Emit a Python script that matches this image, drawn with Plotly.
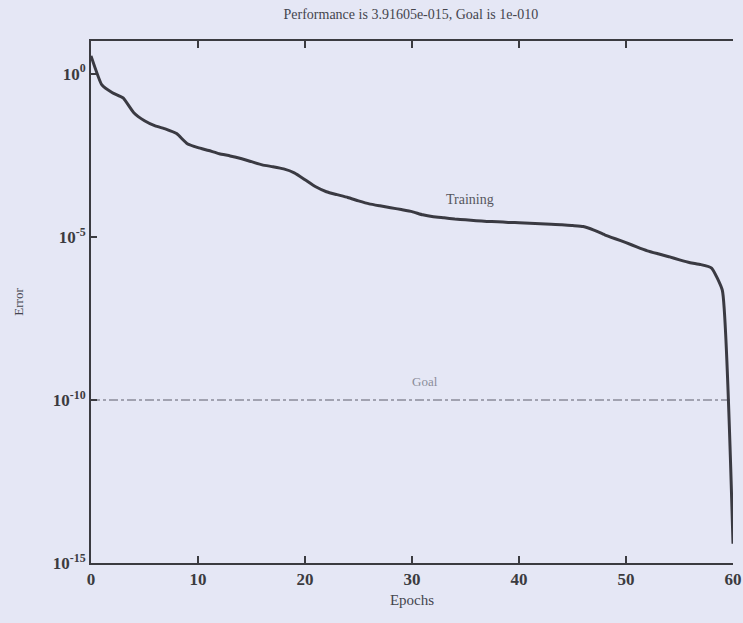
import plotly.graph_objects as go

# ---- data ----
epochs = list(range(0, 61))
training_error = [
    3.5, 0.46, 0.26, 0.18, 0.063, 0.036, 0.025, 0.020, 0.0145, 0.0071,
    0.0054, 0.0044, 0.0035, 0.0030, 0.0025, 0.0020, 0.0016, 0.0014, 0.0012, 9.1e-4,
    5.6e-4, 3.4e-4, 2.4e-4, 1.95e-4, 1.6e-4, 1.26e-4, 1.02e-4, 8.9e-5, 7.8e-5, 6.8e-5,
    5.9e-5, 4.7e-5, 4.1e-5, 3.8e-5, 3.5e-5, 3.3e-5, 3.1e-5, 2.95e-5, 2.9e-5, 2.75e-5,
    2.7e-5, 2.6e-5, 2.5e-5, 2.4e-5, 2.35e-5, 2.2e-5, 2.05e-5, 1.6e-5, 1.15e-5, 8.7e-6,
    6.6e-6, 4.9e-6, 3.7e-6, 3.0e-6, 2.45e-6, 1.95e-6, 1.6e-6, 1.4e-6, 1.1e-6, 2.3e-7,
    3.91605e-15,
]
goal_epochs = [0, 60]
goal_value = [1e-10, 1e-10]
y_tickvals = [1e0, 1e-5, 1e-10, 1e-15]
y_ticktext = ["10<sup>0</sup>", "10<sup>-5</sup>", "10<sup>-10</sup>", "10<sup>-15</sup>"]
x_tickvals = [0, 10, 20, 30, 40, 50, 60]
title_text = "Performance is 3.91605e-015, Goal is 1e-010"

BG = "#e5e7f5"
INK = "#3b3b40"
SERIF = "Liberation Serif, Times New Roman, serif"

fig = go.Figure()
fig.add_trace(go.Scatter(
    x=goal_epochs, y=goal_value, mode="lines",
    line=dict(color="#8a8c99", width=1.5, dash="dashdot"),
    showlegend=False, hoverinfo="skip",
))
fig.add_trace(go.Scatter(
    x=epochs, y=training_error, mode="lines",
    line=dict(color="#3a3a42", width=3, shape="spline", smoothing=0.4),
    showlegend=False,
))

fig.add_annotation(x=35.4, y=-3.87, xref="x", yref="y", text="Training",
                   showarrow=False, font=dict(family=SERIF, size=14, color="#55565e"))
fig.add_annotation(x=31.2, y=-9.45, xref="x", yref="y", text="Goal",
                   showarrow=False, font=dict(family=SERIF, size=13, color="#8a8c99"))

fig.update_layout(
    width=743, height=623,
    paper_bgcolor=BG, plot_bgcolor=BG,
    margin=dict(l=91, r=10, t=41, b=60),
    title=dict(text=title_text, x=0.553, xanchor="center", y=0.978, yanchor="middle",
               font=dict(family=SERIF, size=14, color="#44454d")),
    showlegend=False,
)
fig.update_xaxes(
    range=[0, 60], tickvals=x_tickvals, ticks="inside", ticklen=7, tickwidth=2,
    tickcolor=INK, showline=True, linecolor=INK, linewidth=2, mirror="ticks",
    showgrid=False, zeroline=False, ticklabeloverflow="allow", automargin=False,
    tickfont=dict(family=SERIF, size=17, color=INK, weight="bold"),
    title=dict(text="Epochs", font=dict(family=SERIF, size=15, color="#44454d"), standoff=6),
)
fig.update_yaxes(
    type="log", range=[-15, 1], tickvals=y_tickvals, ticktext=y_ticktext,
    ticks="inside", ticklen=6, tickwidth=2, tickcolor=INK,
    showline=True, linecolor=INK, linewidth=2, mirror=False,
    showgrid=False, zeroline=False, automargin=False,
    tickfont=dict(family=SERIF, size=17, color=INK, weight="bold"),
    title=dict(text="Error", font=dict(family=SERIF, size=13, color="#44454d"), standoff=26),
)

fig.write_html("out.html")
